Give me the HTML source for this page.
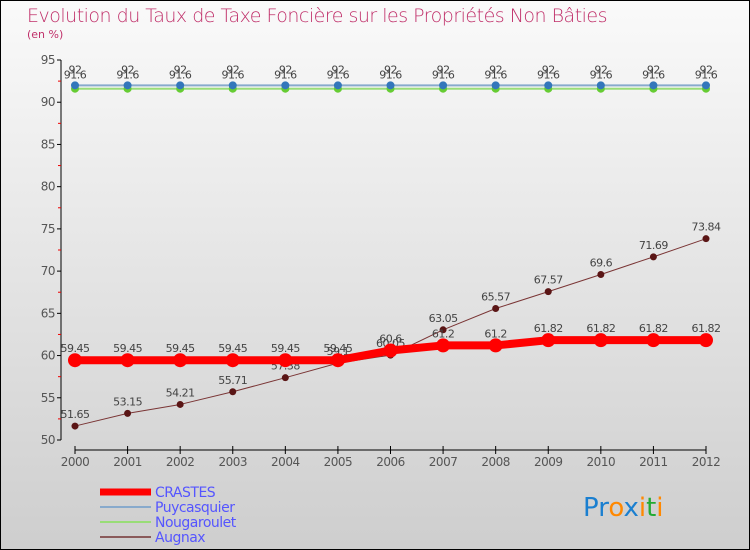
<!DOCTYPE html>
<html><head><meta charset="utf-8"><style>
body{margin:0}
#c{width:750px;height:550px;position:relative;box-sizing:border-box;border:1px solid #000;background:linear-gradient(#fafafa,#cecece);font-family:"DejaVu Sans","Liberation Sans",sans-serif;overflow:hidden}
.t{position:absolute;left:26px;top:4px;font-size:19px;color:#c0306a;font-weight:200;letter-spacing:-0.5px}
.s{position:absolute;left:26px;top:27px;font-size:11px;color:#c0306a}
</style></head><body>
<div id="c">
<div class="t">Evolution du Taux de Taxe Foncière sur les Propriétés Non Bâties</div>
<div class="s">(en %)</div>
<svg id="g" width="750" height="550" style="position:absolute;left:-1px;top:-1px"></svg>
</div>
<script>
const years=[2000,2001,2002,2003,2004,2005,2006,2007,2008,2009,2010,2011,2012];
const yTicks=[50,55,60,65,70,75,80,85,90,95];
const crastes=[59.45,59.45,59.45,59.45,59.45,59.45,60.6,61.2,61.2,61.82,61.82,61.82,61.82];
const puycasquier=[92,92,92,92,92,92,92,92,92,92,92,92,92];
const nougaroulet=[91.6,91.6,91.6,91.6,91.6,91.6,91.6,91.6,91.6,91.6,91.6,91.6,91.6];
const augnax=[51.65,53.15,54.21,55.71,57.38,59.1,60.05,63.05,65.57,67.57,69.6,71.69,73.84];
const NS="http://www.w3.org/2000/svg";
const svg=document.getElementById('g');
const X=i=>75+i*(631/12);
const Y=v=>440-(v-50)*(380/45);
function el(t,a,p){const e=document.createElementNS(NS,t);for(const k in a)e.setAttribute(k,a[k]);(p||svg).appendChild(e);return e;}
function txt(x,y,s,anchor,size,fill){const e=el('text',{x:x,y:y,'text-anchor':anchor,'font-size':size,fill:fill||'#333','font-family':'DejaVu Sans, Liberation Sans, sans-serif','letter-spacing':'-0.5'});e.textContent=s;return e;}
const ya=el('line',{x1:61,y1:Y(95),x2:61,y2:Y(50),stroke:'#000','stroke-width':1});


yTicks.forEach(v=>{el('line',{x1:57,y1:Y(v),x2:61,y2:Y(v),stroke:'#000'});
 const t=txt(55,Y(v)+4,String(v),'end',12,'#555');
 
 
 if(v<95)el('line',{x1:58,y1:Y(v+2.5),x2:61,y2:Y(v+2.5),stroke:'#e00'});});
const xa=el('line',{x1:X(0),y1:450,x2:X(12),y2:450,stroke:'#000'});


years.forEach((yr,i)=>{el('line',{x1:X(i),y1:446,x2:X(i),y2:454,stroke:'#000'});
 const t=txt(X(i),466,String(yr),'middle',12,'#555');
 
 });
function series(data,color,w,r,dot,name,labelDy){
 const pl=el('polyline',{points:data.map((v,i)=>X(i)+','+Y(v)).join(' '),fill:'none',stroke:color,'stroke-width':w,'stroke-linejoin':'round'});
 
 
 data.forEach((v,i)=>{const c=el('circle',{cx:X(i),cy:Y(v),r:r,fill:dot});
  
  
  const t=txt(X(i),Y(v)+labelDy,String(v),'middle',11,'#444');
  
  });
}
series(augnax,'#7a3535',1,3.5,'#5a1515','augnax',-8);
series(crastes,'#f00',8,7,'#f00','crastes',-8);
series(nougaroulet,'#99dd77',2,4,'#66cc33','nougaroulet',-10);
series(puycasquier,'#88aacc',2,4,'#3377bb','puycasquier',-12);
const leg=[['CRASTES','#f00',7],['Puycasquier','#88aacc',2],['Nougaroulet','#99dd77',2],['Augnax','#8a5a5a',2]];
leg.forEach((l,i)=>{const y=492+i*15;
 el('line',{x1:100,y1:y,x2:151,y2:y,stroke:l[1],'stroke-width':l[2]});
 const t=txt(155,y+5,l[0],'start',14,'#5555ff');
 
 });
const lg=el('text',{x:583,y:516,'font-size':26,'font-family':'DejaVu Sans, sans-serif','font-weight':'normal'});


[['Pr','#1a7fd0'],['o','#ff8800'],['x','#1a7fd0'],['i','#ff8800'],['t','#22aa33'],['i','#ff8800']].forEach(p=>{const s=el('tspan',{fill:p[1]},lg);s.textContent=p[0];});
</script>
</body></html>
